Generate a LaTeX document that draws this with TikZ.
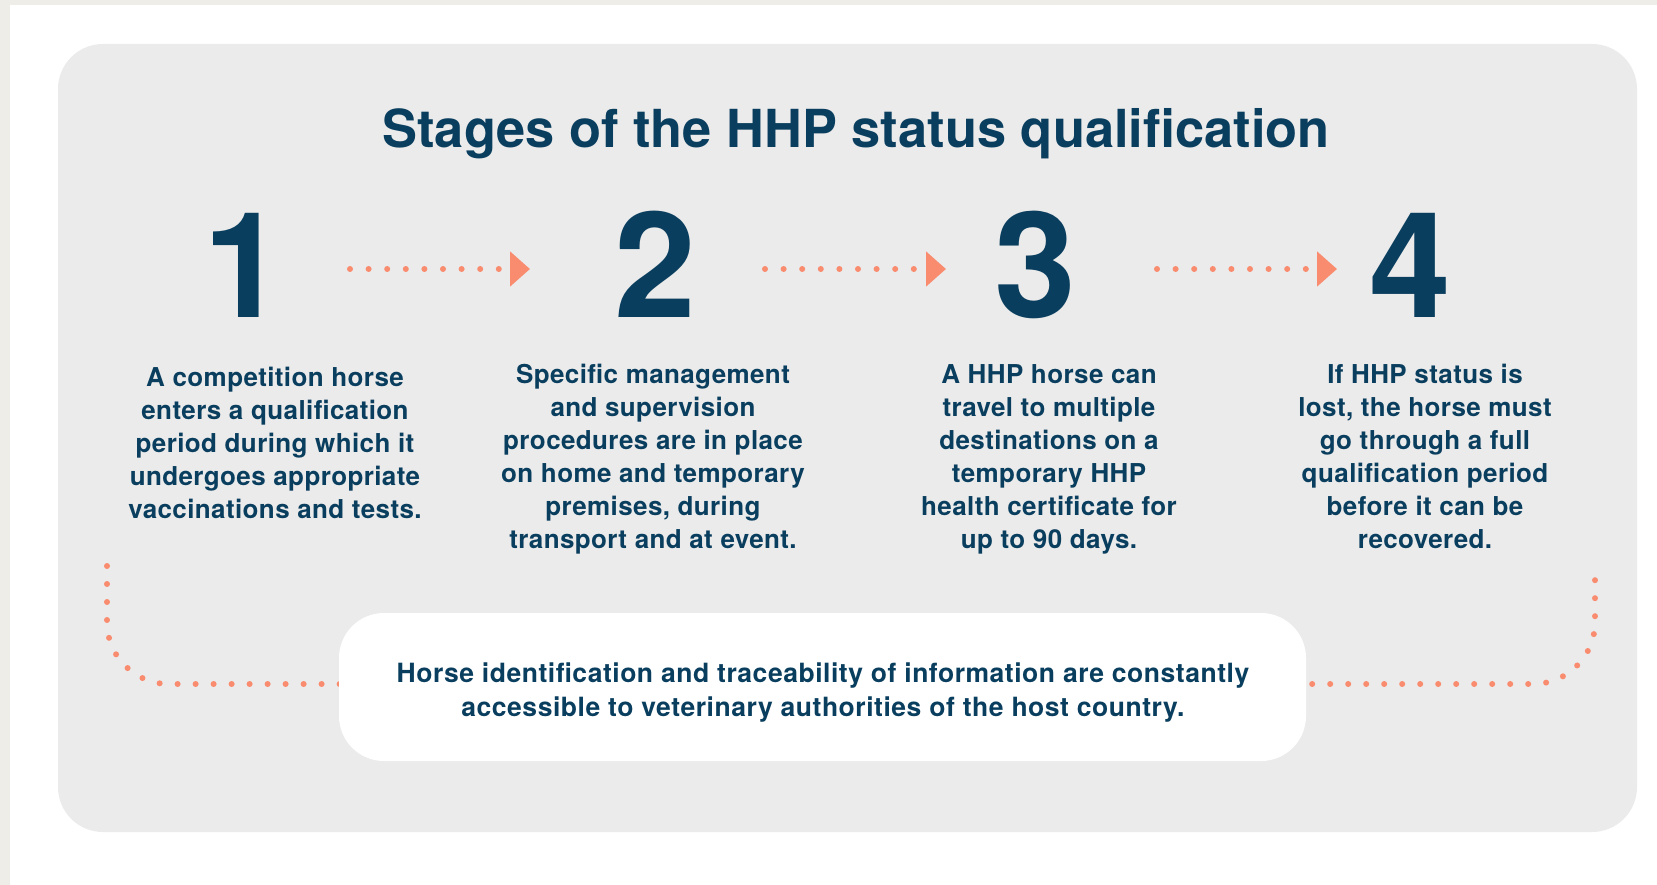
\documentclass[tikz,border=0pt]{standalone}
\usepackage{fontspec}
\setmainfont{TeX Gyre Heros}
\newfontfamily\bodyfont[LetterSpace=1.5]{TeX Gyre Heros}
\newfontfamily\boxfont[LetterSpace=2]{TeX Gyre Heros}
\usetikzlibrary{arrows.meta}
\pgfdeclarelayer{back}
\pgfdeclarelayer{mid}
\pgfsetlayers{back,mid,main}
\definecolor{navy}{HTML}{0A3E5E}
\definecolor{salmon}{HTML}{F98B6E}
\definecolor{panel}{HTML}{EBEBEB}
\definecolor{beige}{HTML}{EEEDE8}
\tikzset{
  numstyle/.style={inner sep=0pt, anchor=base, text=navy, font=\bfseries\fontsize{147}{147}\selectfont},
  stagetext/.style={inner sep=0pt, anchor=north, align=center, text=navy, font=\bodyfont\bfseries\fontsize{26}{33}\selectfont},
  dotarrow/.style={draw=salmon, line width=6pt, line cap=round, dash pattern=on 0pt off 18.6pt, -{Triangle[length=20pt,width=34pt,line cap=butt,fill=salmon]}},
  dotline/.style={draw=salmon, line width=6pt, line cap=round, dash pattern=on 0pt off 18pt, rounded corners=62pt},
}
\begin{document}
\begin{tikzpicture}[x=1pt,y=-1pt]
\useasboundingbox (0,0) rectangle (1657,885);
\begin{pgfonlayer}{back}
\fill[beige] (0,0) rectangle (1657,885);
\fill[white] (10,5) rectangle (1657,885);
\fill[panel, rounded corners=45pt] (58,44) rectangle (1637,832);
\end{pgfonlayer}

\node[inner sep=0pt, anchor=base, text=navy, font=\bfseries\fontsize{52.4}{52.4}\selectfont] (title) at (856,148) {Stages of the HHP status qualification};

\node[numstyle] (n1) at (244,317) {1};
\node[numstyle] (n2) at (655,317) {2};
\node[numstyle] (n3) at (1035,317) {3};
\node[numstyle] (n4) at (1410,317) {4};

\coordinate (a1s) at (350,269); \coordinate (a1e) at (530,269);
\coordinate (a2s) at (765,269); \coordinate (a2e) at (946,269);
\coordinate (a3s) at (1157,269); \coordinate (a3e) at (1337,269);
\draw[dotarrow] (a1s) -- (a1e);
\draw[dotarrow] (a2s) -- (a2e);
\draw[dotarrow] (a3s) -- (a3e);

\node[stagetext] (t1) at (275,367) {A competition horse\\enters a qualification\\period during which it\\undergoes appropriate\\vaccinations and tests.};
\node[stagetext] (t2) at (653,364) {Specific management\\and supervision\\procedures are in place\\on home and temporary\\premises, during\\transport and at event.};
\node[stagetext] (t3) at (1049,364) {A HHP horse can\\travel to multiple\\destinations on a\\temporary HHP\\health certificate for\\up to 90 days.};
\node[stagetext] (t4) at (1425,364) {If HHP status is\\lost, the horse must\\go through a full\\qualification period\\before it can be\\recovered.};

\node[fill=white, rounded corners=45pt, minimum width=967pt, minimum height=148pt, inner sep=0pt] (box) at (822.5,687) {};
\node[inner sep=0pt, align=center, text=navy, font=\boxfont\bfseries\fontsize{26.5}{34}\selectfont] (boxtext) at (823,693) {Horse identification and traceability of information are constantly\\accessible to veterinary authorities of the host country.};

\coordinate (ls) at (107,566);
\coordinate (rs) at (1595,570);
\coordinate (lb) at ([xshift=30pt,yshift=3pt]box.west);
\coordinate (rb) at ([xshift=-30pt,yshift=3pt]box.east);
\begin{pgfonlayer}{mid}
\draw[dotline] (ls) -- (ls |- lb) -- (lb);
\draw[dotline] (rb) -- (rs |- rb) -- (rs);
\end{pgfonlayer}
\end{tikzpicture}
\end{document}
